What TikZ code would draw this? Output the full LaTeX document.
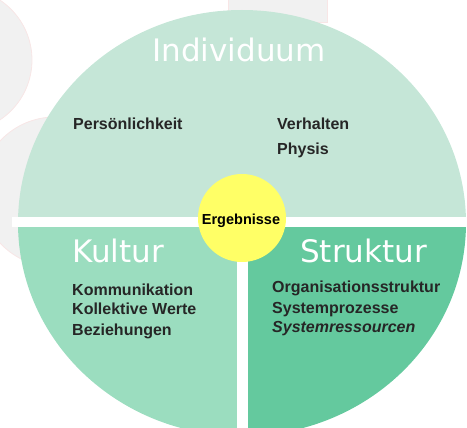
\documentclass[tikz,border=0pt]{standalone}
\usepackage{fontspec}
\setmainfont{Liberation Sans}
\newfontfamily\titlefont{DejaVu Sans}
\definecolor{indiv}{HTML}{C5E6D7}
\definecolor{kult}{HTML}{9BDDBF}
\definecolor{strukt}{HTML}{64C99E}
\definecolor{ergeb}{HTML}{FFFF66}
\definecolor{ghost}{HTML}{F1F1F1}
\definecolor{ghostedge}{HTML}{F8E6E6}
\tikzset{
  title/.style={font=\titlefont\fontsize{31}{31}\selectfont, text=white, inner sep=0pt},
  item/.style={font=\bfseries\fontsize{16}{16}\selectfont, text=black!85, inner sep=0pt, anchor=base west},
  ghostshape/.style={fill=ghost, draw=ghostedge, line width=0.8pt},
  band/.style={fill=white, draw=none}
}
\begin{document}
\begin{tikzpicture}[x=1pt,y=-1pt]
\useasboundingbox (0,0) rectangle (467,428);
% faint background shapes
\filldraw[ghostshape] (-40,60) circle (72);
\filldraw[ghostshape] (55,192) circle (75);
\filldraw[ghostshape] (228,-2) rectangle (327,22);
% main disc
\begin{scope}
  \clip (0,0) rectangle (467,428);
  \clip (242,223) ellipse [x radius=224, y radius=213];
  \fill[indiv] (0,0) rectangle (467,223);
  \fill[kult] (0,223) rectangle (242,440);
  \fill[strukt] (242,223) rectangle (467,440);
\end{scope}
% separators
\fill[band] (12,217) rectangle (467,227);
\fill[band] (237,217) rectangle (248,428);
% centre
\node[circle, fill=ergeb, minimum size=88pt, inner sep=0pt] (ergc) at (242,218) {};
\node[font=\bfseries\fontsize{14.5}{14.5}\selectfont, inner sep=0pt, anchor=base] (erg) at (241,225) {Ergebnisse};
% titles
\node[title, anchor=base] (ind) at (239,62) {Individuum};
\node[title, anchor=base west] (kul) at (72,263) {Kultur};
\node[title, anchor=base west] (str) at (300,263) {Struktur};
% items
\node[item] (pers) at (73,130) {Persönlichkeit};
\node[item] (verh) at (277,130) {Verhalten};
\node[item] (phys) at (277,155) {Physis};
\node[item] (komm) at (72,295) {Kommunikation};
\node[item] (koll) at (72,315) {Kollektive Werte};
\node[item] (bez) at (72,335) {Beziehungen};
\node[item] (org) at (272,293) {Organisationsstruktur};
\node[item] (sysp) at (272,313) {Systemprozesse};
\node[item, font=\bfseries\itshape\fontsize{16}{16}\selectfont] (sysr) at (272,332) {Systemressourcen};
\end{tikzpicture}
\end{document}
